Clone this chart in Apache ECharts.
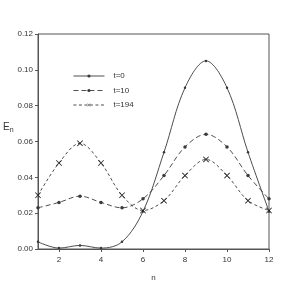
<!DOCTYPE html>
<html><head><meta charset="utf-8">
<script src="https://cdn.jsdelivr.net/npm/echarts@6/dist/echarts.min.js"></script>
<style>html,body{margin:0;padding:0;background:#fff}#c{width:287px;height:287px}</style>
</head><body><div id="c"></div>
<script>
var nValues = [1,2,3,4,5,6,7,8,9,10,11,12];
var seriesNames = ['t=0','t=10','t=194'];
var t0 = [0.004,0.0005,0.002,0.0005,0.004,0.021,0.054,0.090,0.105,0.090,0.054,0.021];
var t10 = [0.023,0.026,0.0295,0.026,0.023,0.028,0.041,0.057,0.064,0.057,0.041,0.028];
var t194 = [0.030,0.048,0.059,0.048,0.030,0.0215,0.027,0.041,0.050,0.041,0.027,0.0215];
var xTicks = [2,4,6,8,10,12];

function pairs(arr){ return nValues.map(function(n,i){ return [n, arr[i]]; }); }
var xSym = 'path://M0,1L1,0L5,4L9,0L10,1L6,5L10,9L9,10L5,6L1,10L0,9L4,5Z';
var col = '#3a3a3a';
var font = 'Liberation Sans';
var chart = echarts.init(document.getElementById('c'));
chart.setOption({
  animation:false,
  textStyle:{fontFamily:font},
  grid:{left:38,right:18,top:34,bottom:38,show:true,borderColor:'#555',borderWidth:1},
  legend:{
    left:68, top:67, orient:'vertical', itemWidth:31, itemHeight:4, itemGap:6.5,
    lineStyle:{width:0.9},
    textStyle:{fontSize:8, color:'#333', fontFamily:font, padding:[0,0,0,4]},
    data:seriesNames
  },
  graphic:[{type:'text', left:3, top:122, style:{
    text:'{e|E}{s|n}', fill:'#333',
    rich:{e:{fontSize:10,fontFamily:font,fill:'#333'},s:{fontSize:7,fontFamily:font,fill:'#333',padding:[7,0,0,0]}}
  }}],
  xAxis:{
    type:'value', min:1, max:12,
    name:'n', nameLocation:'middle', nameGap:25,
    nameTextStyle:{fontSize:8,color:'#333'},
    axisLine:{lineStyle:{color:'#555'}},
    axisTick:{show:true, length:3, customValues:xTicks, lineStyle:{color:'#555'}},
    axisLabel:{fontSize:8,color:'#333',margin:7,customValues:xTicks},
    splitLine:{show:false}
  },
  yAxis:{
    type:'value', min:0, max:0.12, interval:0.02,
    axisLine:{show:true,lineStyle:{color:'#555'}},
    axisTick:{show:true,length:3,lineStyle:{color:'#555'}},
    axisLabel:{fontSize:8,color:'#333',margin:5,formatter:function(v){return v.toFixed(2);}},
    splitLine:{show:false}
  },
  series:[
    {name:'t=0', type:'line', data:pairs(t0), smooth:0.35, symbol:'circle', symbolSize:2.5,
     lineStyle:{color:col,width:0.9}, itemStyle:{color:col}},
    {name:'t=10', type:'line', data:pairs(t10), smooth:0.35, symbol:'circle', symbolSize:3.5,
     lineStyle:{color:col,width:0.9,type:[5,3]}, itemStyle:{color:col}},
    {name:'t=194', type:'line', data:pairs(t194), smooth:0.35, symbol:xSym, symbolSize:6,
     lineStyle:{color:col,width:0.9,type:[3,2.5]}, itemStyle:{color:'#222'}}
  ]
});
</script></body></html>
